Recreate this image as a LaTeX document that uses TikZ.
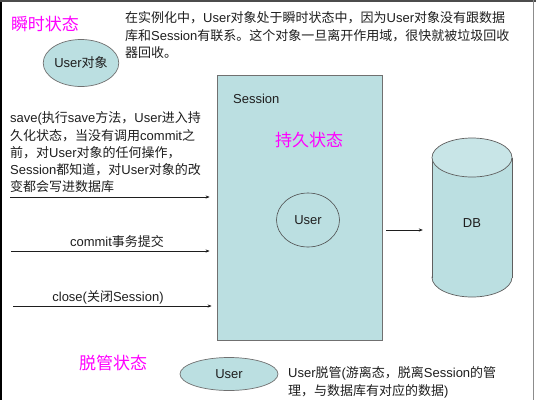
\documentclass[tikz,border=0pt]{standalone}
\usepackage{fontspec}
\setmainfont{Noto Sans CJK SC}
\newfontfamily\latinfnt{Liberation Sans}
\newcommand\E[1]{{\latinfnt #1}}
\usetikzlibrary{shapes.geometric,arrows.meta}
\definecolor{tealfill}{HTML}{BBDFE1}
\definecolor{tealtop}{HTML}{C8E5E7}
\definecolor{mag}{HTML}{FF00FF}
\definecolor{txt}{HTML}{1E1E1E}
\definecolor{edge}{HTML}{707070}
\tikzset{
  statetitle/.style={text=mag, font=\fontsize{17}{20}\selectfont, inner sep=0},
  body/.style={text=txt, font=\fontsize{13}{17.3}\selectfont, inner sep=0, align=left},
  ell/.style={ellipse, draw=edge, line width=0.7pt, fill=tealfill, inner sep=0, text=txt, font=\fontsize{13}{15}\selectfont},
  conn/.style={draw=txt, line width=0.6pt, -{Stealth[length=4pt,width=3.2pt]}},
  cylline/.style={draw=edge!85!black, line width=0.7pt},
}
\begin{document}
\begin{tikzpicture}[x=1pt,y=-1pt]
\useasboundingbox (0,0) rectangle (536,400);
\fill[white] (0,0) rectangle (536,400);
% screen frame
\draw[black, line width=1.5pt] (0.75,0) -- (0.75,400);
\draw[black!70, line width=1.5pt] (0,0.75) -- (536,0.75);
\draw[black!45, line width=1.2pt] (533.5,0) -- (533.5,400);

% transient state
\node[statetitle] (t1) at (45,24) {瞬时状态};
\node[ell, minimum width=65, minimum height=47] (uo) at (81,63) {\E{User}对象};
\node[body, anchor=north west] (para) at (125,11.5) {在实例化中，\E{User}对象处于瞬时状态中，因为\E{User}对象没有跟数据\\库和\E{Session}有联系。这个对象一旦离开作用域，很快就被垃圾回收\\器回收。};

% session
\node[draw=edge, line width=0.8pt, fill=tealfill, minimum width=165, minimum height=265, inner sep=0] (sess) at (299.5,207.5) {};
\node[body, anchor=west] (slab) at (233,99) {\E{Session}};
\node[statetitle] (t2) at (309,140) {持久状态};
\node[ellipse, draw=txt!80, line width=0.6pt, minimum width=63, minimum height=54, inner sep=0, text=txt, font=\fontsize{13}{15}\selectfont] (u2) at (308,220) {\E{User}};

% left text and arrows
\node[body, anchor=north west] (save) at (10,111.5) {\E{save(}执行\E{save}方法，\E{User}进入持\\久化状态，当没有调用\E{commit}之\\前，对\E{User}对象的任何操作，\\\E{Session}都知道，对\E{User}对象的改\\变都会写进数据库};
\coordinate (a1) at (10,197);
\draw[conn, shorten >=7pt] (a1) -- (a1 -| sess.west);
\node[body] (commit) at (117,242) {\E{commit}事务提交};
\coordinate (a2) at (11,251);
\draw[conn, shorten >=7pt] (a2) -- (a2 -| sess.west);
\node[body] (close) at (108,297) {\E{close(}关闭\E{Session)}};
\coordinate (a3) at (13,306);
\draw[conn, shorten >=5pt] (a3) -- (a3 -| sess.west);

% DB cylinder
\fill[tealfill, cylline] (472,277.5) ellipse [x radius=40, y radius=19.5];
\fill[tealfill] (432,157.5) rectangle (512,277.5);
\draw[cylline] (432,157.5) -- (432,277.5);
\draw[cylline] (512,157.5) -- (512,277.5);
\filldraw[fill=tealtop, cylline] (472,157.5) ellipse [x radius=40, y radius=19.5];
\node[minimum width=80, minimum height=120, inner sep=0] (db) at (472,217.5) {};
\node[body] (dbl) at (472,223) {\E{DB}};
\coordinate (a4) at (386,230);
\draw[conn, shorten >=9pt] (a4) -- (a4 -| db.west);

% detached state
\node[statetitle] (t3) at (113,363) {脱管状态};
\node[ell, minimum width=98, minimum height=33] (u3) at (229,374) {\E{User}};
\node[body, anchor=north west] (det) at (288,366.5) {\E{User}脱管\E{(}游离态，脱离\E{Session}的管\\理，与数据库有对应的数据\E{)}};
\end{tikzpicture}
\end{document}
